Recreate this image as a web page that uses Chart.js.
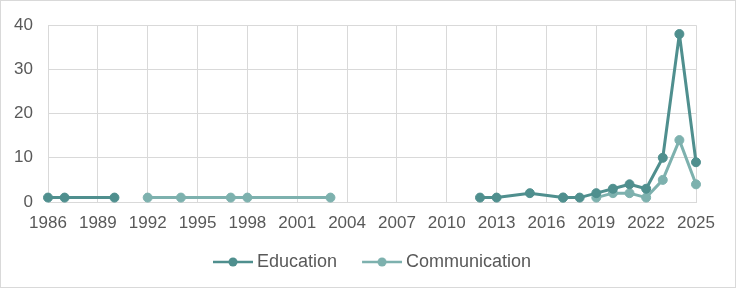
<!DOCTYPE html>
<html>
<head>
<meta charset="utf-8">
<script src="https://cdn.jsdelivr.net/npm/chart.js@4.4.1/dist/chart.umd.min.js"></script>
<style>
  html, body { margin: 0; padding: 0; background: #fff; }
  #wrap { position: relative; width: 737px; height: 290px; }
  #frame {
    position: absolute; left: 0; top: 0; width: 736px; height: 288px;
    box-sizing: border-box; border: 1px solid #d9d9d9; pointer-events: none;
  }
</style>
</head>
<body>
<div id="wrap">
  <canvas id="chart" width="737" height="290"></canvas>
  <div id="frame"></div>
</div>
<script>
// years with at least one value; null = no value that year (line breaks)
const years = [1986, 1987, 1990, 1992, 1994, 1997, 1998, 2003, 2012, 2013,
  2015, 2017, 2018, 2019, 2020, 2021, 2022, 2023, 2024, 2025];
const education = [1, 1, 1, null, null, null, null, null, 1, 1,
  2, 1, 1, 2, 3, 4, 3, 10, 38, 9];
const communication = [null, null, null, 1, 1, 1, 1, 1, null, null,
  null, 1, null, 1, 2, 2, 1, 5, 14, 4];

const EDU_COLOR = "#4f8f8e";
const COMM_COLOR = "#7db1ae";
const TEXT_COLOR = "#595959";
const GRID_COLOR = "#d9d9d9";
const FONT = "'Liberation Sans', Arial, sans-serif";

function toPoints(values) {
  return years.map((yr, i) => ({ x: yr, y: values[i] }));
}

// line + dot legend marker; drawn in the right 40px of a 60px image so the
// legend gets the same spacing as the spreadsheet legend
function legendIcon(color) {
  const c = document.createElement("canvas");
  c.width = 60;
  c.height = 12;
  const ctx = c.getContext("2d");
  ctx.strokeStyle = color;
  ctx.lineWidth = 2.5;
  ctx.beginPath();
  ctx.moveTo(20, 6);
  ctx.lineTo(60, 6);
  ctx.stroke();
  ctx.fillStyle = color;
  ctx.beginPath();
  ctx.arc(40, 6, 4.5, 0, Math.PI * 2);
  ctx.fill();
  return c;
}

const legendIcons = [legendIcon(EDU_COLOR), legendIcon(COMM_COLOR)];

function series(label, values, color) {
  return {
    label,
    data: toPoints(values),
    borderColor: color,
    backgroundColor: color,
    borderWidth: 3,
    borderJoinStyle: "round",
    borderCapStyle: "round",
    pointRadius: 4.5,
    pointBorderWidth: 1,
    pointBackgroundColor: color,
    pointBorderColor: color,
    tension: 0,
    spanGaps: false,
    clip: false,
  };
}

const ctx = document.getElementById("chart").getContext("2d");
new Chart(ctx, {
  type: "line",
  data: {
    datasets: [
      series("Education", education, EDU_COLOR),
      series("Communication", communication, COMM_COLOR),
    ],
  },
  options: {
    responsive: false,
    animation: false,
    layout: { padding: { left: 0, right: 8, top: 22, bottom: 9 } },
    plugins: {
      tooltip: { enabled: false },
      legend: {
        position: "bottom",
        labels: {
          usePointStyle: true,
          pointStyleWidth: 50,
          padding: 10,
          color: TEXT_COLOR,
          font: { family: FONT, size: 18 },
          generateLabels(chart) {
            const items = Chart.defaults.plugins.legend.labels.generateLabels(chart);
            items.forEach((it, i) => { it.pointStyle = legendIcons[i]; });
            return items;
          },
        },
      },
    },
    scales: {
      x: {
        type: "linear",
        min: 1986,
        max: 2025,
        ticks: {
          stepSize: 3,
          padding: 11,
          color: TEXT_COLOR,
          font: { family: FONT, size: 17 },
          maxRotation: 0,
          autoSkip: false,
          callback: (v) => String(v),
        },
        grid: { color: GRID_COLOR, lineWidth: 1, drawTicks: false },
        border: { color: GRID_COLOR },
        afterFit(scale) { scale.height = 41; },
      },
      y: {
        min: 0,
        max: 40,
        ticks: {
          stepSize: 10,
          padding: 15,
          color: TEXT_COLOR,
          font: { family: FONT, size: 17 },
        },
        grid: { color: GRID_COLOR, lineWidth: 1, drawTicks: false },
        border: { display: false },
        afterFit(scale) { scale.width = 48; },
      },
      // empty right-hand axis that only keeps the plot clear of the right edge
      yPad: {
        position: "right",
        min: 0,
        max: 1,
        ticks: { display: false },
        grid: { display: false },
        border: { display: false },
        afterFit(scale) { scale.width = 33; },
      },
    },
  },
});
</script>
</body>
</html>
